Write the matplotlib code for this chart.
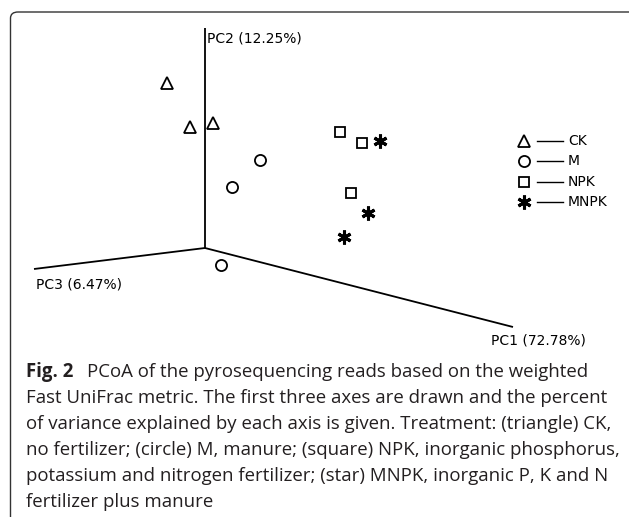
import matplotlib
matplotlib.use("Agg")
import matplotlib.pyplot as plt
from matplotlib.patches import FancyBboxPatch

# projected PCoA positions (screen plane, origin at the axes' meeting point)
ck_x = [-38, -15, 8]
ck_y = [165, 121, 125]
m_x = [55, 27, 16]
m_y = [88, 61, -17]
npk_x = [135, 157, 146]
npk_y = [116, 105, 55]
mnpk_x = [175, 163, 139]
mnpk_y = [107, 35, 11]

# ends of the three drawn axes
axis_names = ["PC1 (72.78%)", "PC2 (12.25%)", "PC3 (6.47%)"]
axis_end_x = [308, 0, -171]
axis_end_y = [-79, 220, -21]

groups = ["CK", "M", "NPK", "MNPK"]
caption = [
    "Fast UniFrac metric. The first three axes are drawn and the percent",
    "of variance explained by each axis is given. Treatment: (triangle) CK,",
    "no fertilizer; (circle) M, manure; (square) NPK, inorganic phosphorus,",
    "potassium and nitrogen fertilizer; (star) MNPK, inorganic P, K and N",
    "fertilizer plus manure",
]

W, H = 629, 517
ox, oy = 205, 248

fig = plt.figure(figsize=(W / 100, H / 100), dpi=100)
ax = fig.add_axes([0, 0, 1, 1])
ax.set_xlim(-ox, W - ox)
ax.set_ylim(oy - H, oy)
ax.axis("off")

# rounded frame around the figure panel (right and bottom run off the image)
frame = FancyBboxPatch((10.5 / W, -40 / H), 640 / W, (H + 40 - 12) / H,
                       boxstyle="round,pad=0,rounding_size=0.012",
                       transform=fig.transFigure, fill=False,
                       edgecolor="#333333", linewidth=1.0)
fig.patches.append(frame)

# axes lines
for ex, ey in zip(axis_end_x, axis_end_y):
    ax.plot([0, ex], [0, ey], color="black", linewidth=1.3, solid_capstyle="butt")

lab_font = dict(family="DejaVu Sans", fontsize=10.0, color="black")
ax.text(axis_end_x[0] - 22, axis_end_y[0] - 13, axis_names[0], ha="left", va="center", **lab_font)
ax.text(axis_end_x[1] + 2, axis_end_y[1] - 11, axis_names[1], ha="left", va="center", **lab_font)
ax.text(axis_end_x[2] + 2, axis_end_y[2] - 15, axis_names[2], ha="left", va="center", **lab_font)

mk = dict(linestyle="none", markerfacecolor="none", markeredgecolor="black")
ax.plot(ck_x, ck_y, marker="^", markersize=8, markeredgewidth=1.3, **mk)
ax.plot(m_x, m_y, marker="o", markersize=8, markeredgewidth=1.3, **mk)
ax.plot(npk_x, npk_y, marker="s", markersize=7.5, markeredgewidth=1.3, **mk)
ax.plot(mnpk_x, mnpk_y, marker=(6, 2, 0), markersize=10, markeredgewidth=2.2,
        linestyle="none", color="black")

# legend drawn by hand
leg_x = 524 - ox
leg_ys = [oy - 141, oy - 161, oy - 181.5, oy - 201.5]
leg_markers = [("^", 8, 1.3), ("o", 8, 1.3), ("s", 7.5, 1.3), ((6, 2, 0), 10, 2.2)]
for name, ly, (m, ms, mew) in zip(groups, leg_ys, leg_markers):
    if m == (6, 2, 0):
        ax.plot([leg_x], [ly], marker=m, markersize=ms, markeredgewidth=mew,
                linestyle="none", color="black")
    else:
        ax.plot([leg_x], [ly], marker=m, markersize=ms, markeredgewidth=mew, **mk)
    ax.plot([leg_x + 13, leg_x + 39], [ly, ly], color="black", linewidth=1.0)
    ax.text(leg_x + 44, ly, name, ha="left", va="center", **lab_font)

# caption
cap_font = dict(family="Open Sans", fontsize=13.4, color="#231f20")
y0 = 517 - 372
fig.text(26 / W, y0 / H, "Fig. 2", fontweight="bold", va="center", ha="left", **cap_font)
fig.text(87 / W, y0 / H, "PCoA of the pyrosequencing reads based on the weighted",
         va="center", ha="left", **cap_font)
for i, line in enumerate(caption):
    fig.text(26 / W, (y0 - 26 * (i + 1)) / H, line, va="center", ha="left", **cap_font)

fig.savefig("out.png", dpi=100)
